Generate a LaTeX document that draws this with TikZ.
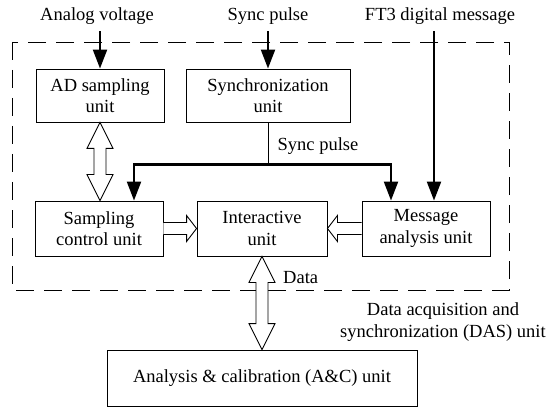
\documentclass[tikz,border=0pt]{standalone}
\usepackage{fontspec}
\setmainfont{Liberation Serif}
\usetikzlibrary{calc,arrows.meta}

% hollow double-headed block arrow between a top point and a bottom point
\newcommand\vdarrow[2]{%
  \path[hollow] (#1) -- ++(13,26) -- ++(-7,0) -- ($(#2)+(6,-26)$) -- ++(7,0)
    -- (#2) -- ++(-13,-26) -- ++(7,0) -- ($(#1)+(-6,26)$) -- ++(-7,0) -- cycle;}
% hollow single-headed horizontal block arrow: start, tip, head length (signed)
\newcommand\hbarrow[3]{%
  \path[hollow] ($(#1)+(0,-6)$) -- ($(#2)+(#3,-6)$) -- ++(0,-7) -- (#2)
    -- ++(#3,13) -- ++(0,-7) -- ($(#1)+(0,6)$);}

\begin{document}
\begin{tikzpicture}[x=1pt,y=-1pt,
  txt/.style={font=\fontsize{18.5}{21.5}\selectfont},
  box/.style={txt,draw,line width=0.9pt,align=center,inner sep=0pt},
  lbl/.style={txt,inner sep=0pt,align=center},
  sig/.style={line width=2.2pt,-{Triangle[length=19pt,width=14pt]}},
  hollow/.style={draw,line width=0.9pt,fill=white,line join=miter},
  frame/.style={line width=0.9pt,dash pattern=on 18pt off 10pt}]

\fill[white] (0,0) rectangle (549,409);
\useasboundingbox (0,0) rectangle (549,409);

% DAS unit boundary
\draw[frame] (12,42) rectangle (509,290);

% units
\node[box,minimum width=128pt,minimum height=53pt] (ad)    at (100,95.5) {AD sampling\\unit};
\node[box,minimum width=164pt,minimum height=53pt] (sync)  at (268,95.5) {Synchronization\\unit};
\node[box,minimum width=128pt,minimum height=55pt] (samp)  at (99,228.5)  {Sampling\\control unit};
\node[box,minimum width=130pt,minimum height=55pt] (inter) at (262,228.5) {Interactive\\unit};
\node[box,minimum width=128pt,minimum height=55pt] (msg)   at (426,228.5) {Message\\analysis unit};
\node[box,minimum width=310pt,minimum height=56pt] (ac)    at (262,378)   {Analysis \& calibration (A\&C) unit};

% external inputs
\node[lbl,anchor=base] (inA)  at (97,21)  {Analog voltage};
\node[lbl,anchor=base] (inS)  at (268,21) {Sync pulse};
\node[lbl,anchor=base] (inF)  at (440,21) {FT3 digital message};

\draw[sig,shorten <=6pt] (inA.south -| ad.north) -- (ad.north);
\draw[sig,shorten <=6pt] (inS.south -| sync.north) -- (sync.north);
\coordinate (ftin) at ($(msg.north)+(8,0)$);
\draw[sig,shorten <=6pt] (inF.south -| ftin) -- (ftin);

% synchronization pulse distribution
\draw[line width=0.9pt] (sync.south) -- ++(0,42) coordinate (j);
\draw[sig] (j) -| ($(samp.north)+(35,0)$);
\draw[sig] (j) -| ($(msg.north)+(-35,0)$);
\node[lbl,anchor=base] (sp) at (318,150) {Sync pulse};

% data paths
\coordinate (sampin) at (ad.south |- samp.north);
\vdarrow{ad.south}{sampin}
\hbarrow{samp.east}{inter.west}{-10}
\hbarrow{msg.west}{inter.east}{10}
\vdarrow{inter.south}{ac.north}
\node[lbl,anchor=base west] (dl) at (283,283) {Data};

\node[lbl,font=\fontsize{18.5}{22}\selectfont] (das) at (443,322)
  {Data acquisition and\\synchronization (DAS) unit};
\end{tikzpicture}
\end{document}
